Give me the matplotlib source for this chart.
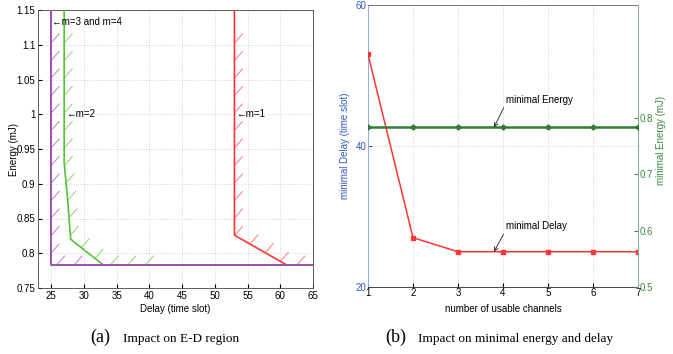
import numpy as np
import matplotlib
matplotlib.use("Agg")
import matplotlib.pyplot as plt

plt.rcParams["font.family"] = ["Liberation Sans", "DejaVu Sans"]
plt.rcParams["font.size"] = 7

# ---- panel (a): E-D region boundaries ----
m1_delay = [53, 53, 61, 65]
m1_energy = [1.15, 0.826, 0.783, 0.783]
m2_delay = [27, 27, 27.5, 28, 33, 65]
m2_energy = [1.15, 0.93, 0.88, 0.82, 0.783, 0.783]
m34_delay = [25, 25, 65]
m34_energy = [1.15, 0.783, 0.783]

# ---- panel (b): minimal delay / energy vs channels ----
channels = [1, 2, 3, 4, 5, 6, 7]
min_delay = [53, 27, 25, 25, 25, 25, 25]
min_energy = [0.783, 0.783, 0.783, 0.783, 0.783, 0.783, 0.783]

C_RED, C_GRN, C_PUR = "#ff3535", "#55c238", "#a04fb0"
H_RED, H_GRN, H_PUR = "#ff8a8a", "#9ad87e", "#c98ad6"
BLUE, BLUE_SP = "#3558c0", "#8eaee0"
DKGRN, GRN_SP = "#3a8a44", "#86b394"

fig = plt.figure(figsize=(6.73, 3.54), dpi=100)


def hatch(ax, xs, ys, color, x_stop, first=33, step=17.5, dx=8, dy=9):
    """short '/' strokes along a boundary, drawn in pixel space"""
    pts = ax.transData.transform(np.column_stack([xs, ys]))
    seg = np.hypot(*np.diff(pts, axis=0).T)
    cum = np.concatenate([[0], np.cumsum(seg)])
    inv = ax.transData.inverted()
    for s in np.arange(first, cum[-1], step):
        i = min(np.searchsorted(cum, s, side="right") - 1, len(seg) - 1)
        t = (s - cum[i]) / seg[i]
        p = pts[i] + t * (pts[i + 1] - pts[i])
        a, b = inv.transform([p, p + [dx, dy]])
        if a[0] > x_stop:
            break
        ax.plot([a[0], b[0]], [a[1], b[1]], color=color, lw=0.8, zorder=2)


# ------------------------------------------------------------------ (a)
ax = fig.add_axes([38 / 673, 1 - 288 / 354, 275 / 673, 278 / 354])
ax.set_xlim(23, 65)
ax.set_ylim(0.75, 1.15)
ax.set_xticks(np.arange(25, 66, 5))
ax.set_yticks([0.75, 0.8, 0.85, 0.9, 0.95, 1, 1.05, 1.1, 1.15])
ax.set_yticklabels(["0.75", "0.8", "0.85", "0.9", "0.95", "1", "1.05", "1.1", "1.15"])
ax.grid(True, color="#c8c8c8", linestyle=":", linewidth=0.6)
ax.tick_params(direction="in", length=3, pad=2, labelsize=7)
for sp in ax.spines.values():
    sp.set_linewidth(0.6)
    sp.set_color("#444")

hatch(ax, m1_delay, m1_energy, H_RED, 66)
hatch(ax, m2_delay, m2_energy, H_GRN, 42)
hatch(ax, m34_delay, m34_energy, H_PUR, 30)
ax.plot(m1_delay, m1_energy, color=C_RED, lw=1.2, zorder=3)
ax.plot(m2_delay, m2_energy, color=C_GRN, lw=1.2, zorder=3)
ax.plot(m34_delay, m34_energy, color=C_PUR, lw=1.4, zorder=4)

ax.text(25.2, 1.133, "\u2190m=3 and m=4", fontsize=7, va="center")
ax.text(27.3, 1.0, "\u2190m=2", fontsize=7, va="center")
ax.text(53.3, 1.0, "\u2190m=1", fontsize=7, va="center")

ax.set_xlabel("Delay (time slot)", fontsize=7)
ax.set_ylabel("Energy (mJ)", fontsize=7)
ax.xaxis.set_label_coords(0.5, -0.058)
ax.yaxis.set_label_coords(-0.07, 0.5)

# ------------------------------------------------------------------ (b)
bx = fig.add_axes([368 / 673, 1 - 287 / 354, 270 / 673, 282 / 354])
bx.set_xlim(1, 7)
bx.set_ylim(20, 60)
bx.set_xticks(channels)
bx.set_yticks([20, 40, 60])
bx.grid(True, color="#c8c8c8", linestyle=":", linewidth=0.6)
bx.tick_params(direction="in", length=3, pad=1, labelsize=7)
bx.tick_params(axis="y", colors=BLUE)
bx.spines["left"].set_color(BLUE_SP)
bx.spines["top"].set_color("#777")
bx.spines["bottom"].set_color("#444")
for sp in bx.spines.values():
    sp.set_linewidth(0.7)

bx.plot(channels, min_delay, color=C_RED, lw=1.1, marker="s", ms=2.5, zorder=3)
bx.annotate("minimal Delay", xy=(3.8, 25), xytext=(4.07, 28.6), fontsize=7,
            va="center", ha="left",
            arrowprops=dict(arrowstyle="->", lw=0.6, color="#222",
                            relpos=(0, 0.2), shrinkA=0, shrinkB=0))
bx.set_xlabel("number of usable channels", fontsize=7)
bx.xaxis.set_label_coords(0.5, -0.06)
bx.set_ylabel("minimal Delay (time slot)", fontsize=7, color=BLUE)
bx.yaxis.set_label_coords(-0.067, 0.5)

b2 = bx.twinx()
b2.set_ylim(0.5, 1.0)
b2.set_yticks([0.5, 0.6, 0.7, 0.8])
b2.tick_params(direction="in", length=3, pad=1, labelsize=7, colors=DKGRN)
b2.spines["right"].set_color(GRN_SP)
b2.spines["left"].set_visible(False)
b2.spines["top"].set_visible(False)
b2.spines["bottom"].set_visible(False)
b2.plot(channels, min_energy, color="#2e7d32", lw=1.8, marker="D", ms=2.6, zorder=3)
b2.annotate("minimal Energy", xy=(3.8, 0.783), xytext=(4.07, 0.832), fontsize=7,
            va="center", ha="left",
            arrowprops=dict(arrowstyle="->", lw=0.6, color="#222",
                            relpos=(0, 0.2), shrinkA=0, shrinkB=0))
b2.set_ylabel("minimal Energy (mJ)", fontsize=7, color=DKGRN)
b2.yaxis.set_label_coords(1.065, 0.52)

# ------------------------------------------------------------------ captions
serif = ["Liberation Serif", "DejaVu Serif"]
fig.text(90 / 673, 1 - 342 / 354, "(a)", family=serif, fontsize=13, va="baseline")
fig.text(123 / 673, 1 - 342 / 354, "Impact on E-D region", family=serif,
         fontsize=9.5, va="baseline")
fig.text(385 / 673, 1 - 342 / 354, "(b)", family=serif, fontsize=13, va="baseline")
fig.text(418 / 673, 1 - 342 / 354, "Impact on minimal energy and delay",
         family=serif, fontsize=9.5, va="baseline")

fig.savefig("out.png", dpi=100)
